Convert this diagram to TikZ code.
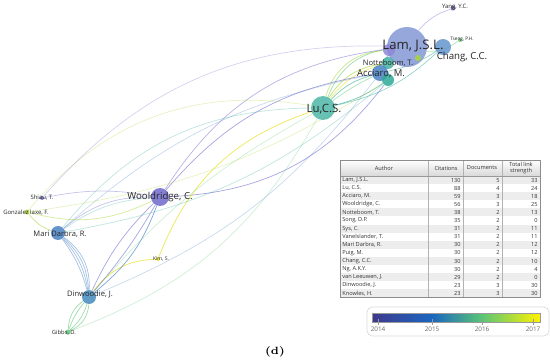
\documentclass[tikz,border=0pt]{standalone}
\usepackage{fontspec}
\setsansfont{Open Sans}
\usetikzlibrary{backgrounds}

% palette of the overlay (years 2014 -- 2017)
\definecolor{vIndigo}{RGB}{62,58,140}
\definecolor{vPurple}{RGB}{112,104,205}
\definecolor{vBlue}{RGB}{72,130,195}
\definecolor{vTeal}{RGB}{45,170,150}
\definecolor{vGreen}{RGB}{95,200,115}
\definecolor{vLime}{RGB}{170,215,55}
\definecolor{vYellow}{RGB}{232,226,40}

\tikzset{
  author/.style={circle, inner sep=0pt, minimum size=#1*0.4mm, fill opacity=0.85},
  lbl/.style={font=\sffamily\fontsize{#1}{#1}\selectfont, inner sep=0pt, text=black!85},
  cell/.style={font=\sffamily\fontsize{3.2}{3.6}\selectfont, inner sep=0pt, text=black!80},
}

\begin{document}
\begin{tikzpicture}[x=0.02cm, y=-0.02cm]
  % 1. Khung hinh (pixel coordinates, y downwards)
  \useasboundingbox (0,0) rectangle (550,364);

  % 2. Cac tac gia (vong tron)
  \node[author=20, fill=vBlue!55!vPurple!75] (lam) at (407,47) {};
  \node[author=8, fill=vBlue!85] (chang) at (443,47) {};
  \node[author=6, fill=vPurple!80] (pur) at (389,50) {};
  \node[author=3, fill=vLime] (lim) at (418,58) {};
  \node[author=2, fill=vGreen] (tseng) at (460,40) {};
  \node[author=2.5, fill=vIndigo!80] (yang) at (453,8) {};
  \node[author=6, fill=vTeal!90] (notte) at (388,63) {};
  \node[author=8, fill=vBlue] (acc) at (380,73) {};
  \node[author=6, fill=vTeal] (acc2) at (388,80) {};
  \node[author=12, fill=vTeal!85] (lu) at (323,108) {};
  \node[author=9, fill=vPurple] (wool) at (160,197) {};
  \node[author=7, fill=vBlue] (mari) at (58,233) {};
  \node[author=7, fill=vBlue!80!vTeal] (dinw) at (89,297) {};
  \node[author=2.5, fill=vGreen] (gibbs) at (68,332) {};
  \node[author=2, fill=vPurple] (shiau) at (42,198) {};
  \node[author=2.5, fill=vLime] (gonz) at (27,212) {};
  \node[author=2, fill=vYellow] (kim) at (158,259) {};

  % 3. Cac lien ket (duong cong mo phia sau)
  \begin{scope}[on background layer, line width=0.35pt]
    \foreach \a/\b/\c/\bb/\o in {
      lu/notte/vLime/25/0.7, lu/lam/vGreen/30/0.6, lu/acc/vTeal/15/0.6,
      lu/acc2/vTeal/-10/0.6, lu/pur/vLime/35/0.6, lu/chang/vTeal/-15/0.5,
      lu/notte/vYellow/18/0.6, lu/acc/vGreen/5/0.5,
      wool/acc/vPurple/20/0.6, wool/lam/vPurple/25/0.5, wool/acc2/vPurple/-25/0.6,
      kim/lu/vYellow/25/0.8, kim/dinw/vYellow/-25/0.8,
      mari/dinw/vBlue/10/0.5, mari/dinw/vBlue/16/0.5, mari/dinw/vBlue/22/0.5,
      mari/dinw/vBlue/28/0.5,
      dinw/gibbs/vGreen/15/0.6, dinw/gibbs/vGreen/30/0.6, dinw/gibbs/vGreen/-10/0.6,
      dinw/gibbs/vGreen/-25/0.6,
      dinw/wool/vBlue/-15/0.7, dinw/wool/vPurple/10/0.6, dinw/wool/vPurple/-5/0.6,
      mari/wool/vPurple/20/0.4, gonz/wool/vLime/-20/0.5, gonz/mari/vLime/-15/0.6,
      gonz/lu/vLime/30/0.3, shiau/lam/vPurple/25/0.3, mari/lu/vTeal/25/0.3,
      mari/acc/vBlue/15/0.3, dinw/lu/vGreen/10/0.3, dinw/acc/vBlue/-15/0.3,
      gibbs/lu/vGreen/-20/0.3, yang/lam/vPurple/-15/0.4, tseng/lam/vGreen/20/0.5,
      chang/acc/vTeal/10/0.5, lam/acc/vBlue/-20/0.5, wool/mari/vTeal/-15/0.3,
      mari/acc2/vTeal/-15/0.3, gonz/acc2/vLime/-12/0.3, shiau/wool/vPurple/10/0.4}
      \draw[draw=\c, draw opacity=\o] (\a) to[bend left=\bb] (\b);
  \end{scope}

  % 4. Nhan cac tac gia
  \node[lbl=7.5] (tLam) at (413,46) {Lam, J.S.L.};
  \node[lbl=6.5] (tLu) at (324,109) {Lu,C.S.};
  \node[lbl=5.5] (tChang) at (462,57) {Chang, C.C.};
  \node[lbl=5.4] (tAcc) at (381,74) {Acciaro, M.};
  \node[lbl=4.3] (tNotte) at (388,63) {Notteboom, T.};
  \node[lbl=5.5] (tWool) at (160,197) {Wooldridge, C.};
  \node[lbl=4.3] (tMari) at (60,234) {Mari Darbra, R.};
  \node[lbl=4.3] (tDinw) at (90,294) {Dinwoodie, J.};
  \node[lbl=3.4] (tShiau) at (42,198) {Shiau, T.};
  \node[lbl=3.4] (tGonz) at (26,213) {Gonzalez laxe, F.};
  \node[lbl=3.3] (tGibbs) at (64,333) {Gibbs, D.};
  \node[lbl=2.9] (tKim) at (161,259) {Kim, S.};
  \node[lbl=2.7] (tTseng) at (462,39) {Tseng, P.H.};
  \node[lbl=3.4] (tYang) at (455,7) {Yang, Y.C.};

  % 5. Bang tac gia
  \fill[top color=white, bottom color=black!15] (340,160) rectangle (540,176);
  \node[cell] (hA) at (384,168) {Author};
  \node[cell] (hC) at (446,168) {Citations};
  \node[cell] (hD) at (482,168) {Documents};
  \node[cell, align=center] (hT) at (521,168) {Total link\\strength};
  \foreach \nm/\ci/\dc/\ls [count=\i] in {
      {Lam, J.S.L.}/130/5/33, {Lu, C.S.}/88/4/24, {Acciaro, M.}/59/3/18,
      {Wooldridge, C.}/56/3/25, {Notteboom, T.}/38/2/13, {Song, D.P.}/35/2/0,
      {Sys, C.}/31/2/11, {Vanelslander, T.}/31/2/11, {Mari Darbra, R.}/30/2/12,
      {Puig, M.}/30/2/12, {Chang, C.C.}/30/2/10, {Ng, A.K.Y.}/30/2/4,
      {van Leeuwen, J.}/29/2/0, {Dinwoodie, J.}/23/3/30, {Knowles, H.}/23/3/30} {
    \pgfmathsetmacro\yt{176+(\i-1)*8.1}
    \pgfmathsetmacro\yc{\yt+4.05}
    \ifodd\i \fill[black!7] (340,\yt) rectangle (540,\yt+8.1); \fi
    \node[cell, anchor=west] (a\i) at (342,\yc) {\nm};
    \node[cell, anchor=east] (c\i) at (461,\yc) {\ci};
    \node[cell, anchor=east] (d\i) at (500,\yc) {\dc};
    \node[cell, anchor=east] (s\i) at (538,\yc) {\ls};
  }
  \foreach \xx in {428,463,502}
    \draw[black!30, line width=0.3pt] (\xx,160) -- (\xx,297.5);
  \draw[black!40, line width=0.3pt] (340,176) -- (540,176);
  \draw[black!45, line width=0.4pt] (340,160) rectangle (540,297.5);

  % 6. Thang mau (2014 -- 2017)
  \draw[black!15, rounded corners=3pt, line width=0.4pt] (367,307) rectangle (549,336);
  \shade[left color=vIndigo, right color=blue!40!vTeal] (372,313) rectangle (432,322);
  \shade[left color=blue!40!vTeal, right color=vGreen!90!vTeal] (432,313) rectangle (482,322);
  \shade[left color=vGreen!90!vTeal, right color=yellow!90!orange] (482,313) rectangle (540,322);
  \draw[black!40, line width=0.3pt] (372,313) rectangle (540,322);
  \foreach \xx/\yr in {378/2014, 432/2015, 482/2016, 533/2017} {
    \draw[black!40, line width=0.3pt] (\xx,319) -- (\xx,325);
    \node[lbl=3.6, text=black!60] (y\yr) at (\xx,329) {\yr};
  }

  % 7. Chu thich hinh
  \node[font=\bfseries\fontsize{6}{6}\selectfont, inner sep=0pt] (cap) at (275,352) {(d)};
\end{tikzpicture}
\end{document}
